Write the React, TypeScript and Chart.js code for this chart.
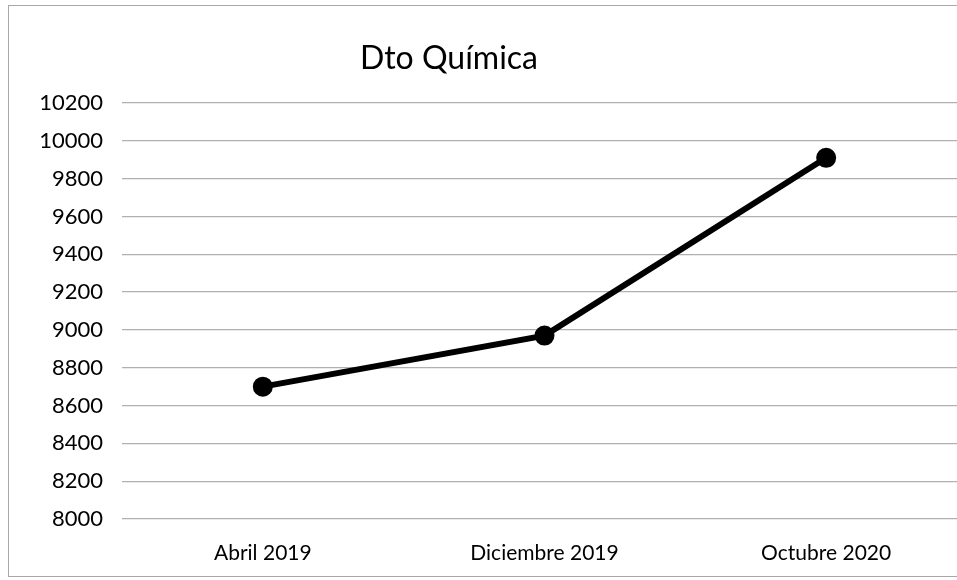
import React, { useEffect, useRef } from "react";
import { Chart, registerables } from "chart.js";

Chart.register(...registerables);

const categories = ["Abril 2019", "Diciembre 2019", "Octubre 2020"];
const values = [8700, 8970, 9910];
const yMin = 8000;
const yMax = 10200;
const yStep = 200;
const title = "Dto Química";

export default function App() {
  const ref = useRef<HTMLCanvasElement | null>(null);
  useEffect(() => {
    if (!ref.current) return;
    const chart = new Chart(ref.current, {
      type: "line",
      data: {
        labels: categories,
        datasets: [
          {
            data: values,
            borderColor: "#000",
            backgroundColor: "#000",
            borderWidth: 6,
            pointRadius: 7,
            pointHoverRadius: 7,
            pointBackgroundColor: "#000",
            pointBorderColor: "#000",
            tension: 0,
          },
        ],
      },
      options: {
        animation: false,
        responsive: false,
        layout: { padding: { left: 0, right: 33, top: 103, bottom: 0 } },
        plugins: { legend: { display: false }, tooltip: { enabled: false }, title: { display: false } },
        scales: {
          x: {
            offset: true,
            grid: { display: false, drawTicks: false },
            border: { display: false },
            ticks: { color: "#000", padding: 22, font: { family: "Lato", size: 21 } },
            afterFit: (s: any) => { s.height = 61; },
          },
          y: {
            min: yMin,
            max: yMax,
            ticks: {
              stepSize: yStep,
              color: "#000",
              padding: 19,
              font: { family: "Lato", size: 22 },
              callback: (v: any) => String(v),
            },
            grid: { color: "#b0b0b0", lineWidth: 1.2, drawTicks: false },
            border: { display: false },
            afterFit: (s: any) => { s.width = 122; },
          },
        },
      },
    });
    return () => chart.destroy();
  }, []);
  return (
    <div style={{ position: "absolute", left: 0, top: 0, width: 957, height: 580, overflow: "hidden", background: "#fff" }}>
      <div style={{ position: "absolute", left: 8, top: 5, width: 1300, height: 572, borderLeft: "1.5px solid #a8a8a8", borderTop: "1.5px solid #a8a8a8", borderBottom: "1.5px solid #a8a8a8", boxSizing: "border-box" }} />
      <canvas ref={ref} width={1000} height={580} style={{ position: "absolute", left: 0, top: 0 }} />
      <div style={{ position: "absolute", left: 0, width: 898, top: 37, textAlign: "center", fontFamily: "Lato", fontSize: 32, color: "#000", lineHeight: "40px" }}>{title}</div>
    </div>
  );
}
